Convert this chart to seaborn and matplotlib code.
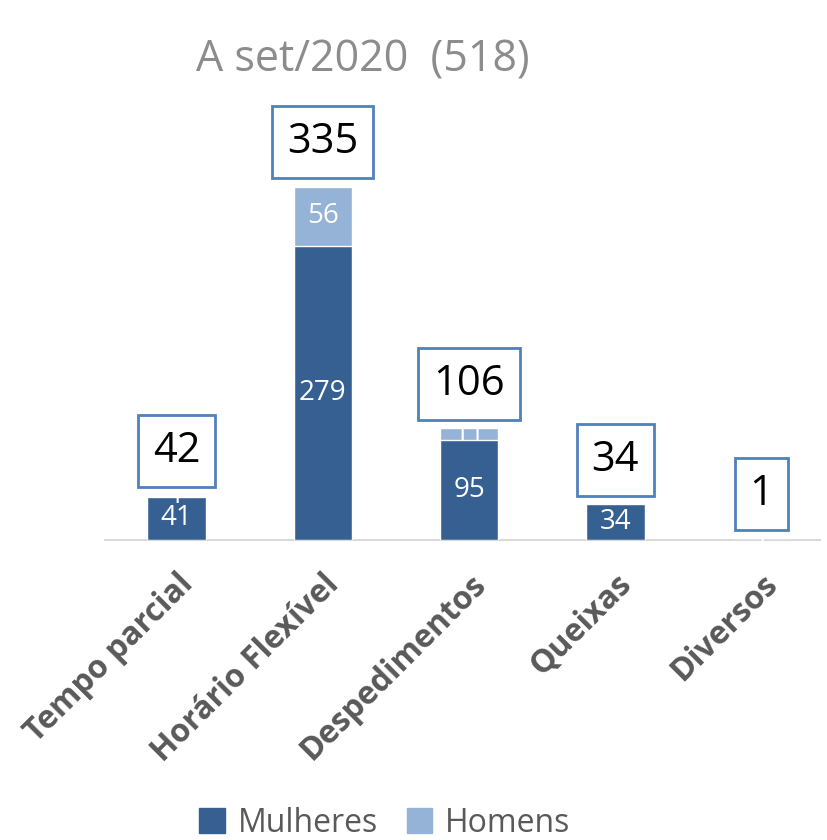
import matplotlib
matplotlib.use("Agg")
import matplotlib.pyplot as plt
import seaborn as sns
import pandas as pd
from matplotlib.patches import Patch

categories = ["Tempo parcial", "Horário Flexível", "Despedimentos", "Queixas", "Diversos"]
mulheres = [41, 279, 95, 34, 0]
homens = [1, 56, 11, 0, 1]
totals = [m + h for m, h in zip(mulheres, homens)]
title = "A set/2020  (518)"

DARK = "#376092"
LIGHT = "#95B3D7"
EDGE = "#4F81BD"
FONT = ["Open Sans", "DejaVu Sans"]

sns.set_theme(style="white")
plt.rcParams["font.family"] = FONT

df = pd.DataFrame({"cat": categories, "Mulheres": mulheres, "Homens": homens, "Total": totals})

fig = plt.figure(figsize=(8.27, 8.40), dpi=100)
ax = fig.add_axes([105 / 827, 300 / 840, 715 / 827, 445 / 840])

sns.barplot(data=df, x="cat", y="Total", color=LIGHT, width=0.4, saturation=1, ax=ax, zorder=2)
sns.barplot(data=df, x="cat", y="Mulheres", color=DARK, width=0.4, saturation=1, ax=ax, zorder=3)

ax.set_xlim(-0.49, 4.4)
ax.set_ylim(0, 422)

# segment labels
for i, (m, h) in enumerate(zip(mulheres, homens)):
    if m > 0:
        ax.text(i, m / 2, str(m), ha="center", va="center", color="white",
                fontsize=20, zorder=5)
    if h > 0:
        ax.text(i, m + h / 2, str(h), ha="center", va="center", color="white",
                fontsize=20, zorder=5)

# total boxes
for i, t in enumerate(totals):
    ax.annotate(str(t), xy=(i, t), xytext=(0, 17), textcoords="offset points",
                ha="center", va="bottom", fontsize=30, color="black", zorder=6,
                bbox=dict(boxstyle="square,pad=0.36", fc="white", ec=EDGE, lw=2))

for s in ["top", "left", "right"]:
    ax.spines[s].set_visible(False)
ax.spines["bottom"].set_color("#D9D9D9")
ax.spines["bottom"].set_linewidth(1.5)
ax.set_yticks([])
ax.set_xlabel("")
ax.set_ylabel("")
ax.tick_params(axis="x", length=0, pad=20)
ax.set_xticks(range(len(categories)))
ax.set_xticklabels(categories, rotation=45, ha="right", rotation_mode="anchor",
                   fontsize=23, fontweight="bold", color="#595959")

fig.text(363 / 827, 1 - 60 / 840, title, ha="center", va="center", fontsize=31, color="#8C8C8C")

handles = [Patch(color=DARK, label="Mulheres"), Patch(color=LIGHT, label="Homens")]
fig.legend(handles=handles, loc="center", bbox_to_anchor=(385 / 827, 1 - 823 / 840),
           ncol=2, frameon=False, fontsize=23, handlelength=0.8, handleheight=0.8,
           handletextpad=0.4, columnspacing=0.9, labelcolor="#595959")

fig.savefig("out.png", dpi=100)
